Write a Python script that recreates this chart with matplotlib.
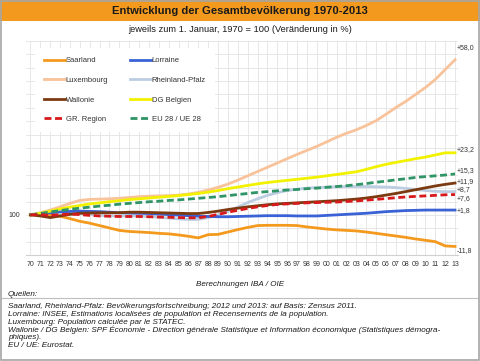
import numpy as np
import matplotlib
matplotlib.use("Agg")
import matplotlib.pyplot as plt
from matplotlib.patches import Rectangle
from matplotlib.lines import Line2D

plt.rcParams['font.family'] = ['Liberation Sans', 'DejaVu Sans']

years = np.arange(1970, 2014)
year_labels = [str(y)[2:] for y in years]

saarland = [100, 100.3, 100.0, 99.5, 98.6, 97.6, 96.9, 96.0, 95.1, 94.2, 93.8, 93.6, 93.4, 93.1,
            92.9, 92.5, 92.0, 91.4, 92.6, 92.7, 93.6, 94.5, 95.3, 96.0, 96.1, 96.1, 96.1, 96.0,
            95.5, 95.1, 94.7, 94.4, 94.2, 94.0, 93.6, 93.1, 92.6, 92.1, 91.6, 91.0, 90.5, 90.0,
            88.4, 88.2]
lorraine = [100, 100.4, 100.8, 101.1, 101.3, 101.4, 101.3, 101.2, 101.0, 100.8, 100.7, 100.6,
            100.5, 100.3, 100.1, 99.9, 99.7, 99.5, 99.4, 99.3, 99.3, 99.4, 99.5, 99.6, 99.7, 99.7,
            99.7, 99.6, 99.6, 99.6, 99.8, 100.0, 100.2, 100.4, 100.6, 100.9, 101.2, 101.4, 101.6,
            101.7, 101.8, 101.8, 101.8, 101.8]
luxembourg = [100, 100.8, 101.8, 103.0, 104.3, 105.4, 105.8, 105.9, 106.0, 106.2, 106.5, 106.8,
              107.0, 107.1, 107.2, 107.4, 107.8, 108.4, 109.3, 110.3, 111.5, 113.0, 114.6, 116.2,
              117.8, 119.4, 121.0, 122.6, 124.1, 125.6, 127.3, 129.0, 130.5, 131.8, 133.4, 135.2,
              137.6, 140.1, 142.4, 145.0, 147.6, 150.6, 154.3, 158.0]
rheinland_pfalz = [100, 100.6, 101.0, 101.2, 101.1, 100.6, 100.1, 99.8, 99.6, 99.6, 99.6, 99.6,
                   99.4, 99.1, 98.8, 98.5, 98.3, 98.3, 99.0, 100.0, 101.3, 102.9, 104.6, 106.0,
                   107.3, 108.3, 109.1, 109.6, 110.0, 110.2, 110.4, 110.5, 110.6, 110.6, 110.6,
                   110.5, 110.4, 110.2, 109.9, 109.5, 109.1, 108.8, 108.7, 108.7]
wallonie = [100, 99.6, 99.0, 99.6, 100.2, 100.6, 100.7, 100.8, 100.8, 100.8, 101.0, 101.0, 100.9,
            100.8, 100.7, 100.6, 100.5, 100.5, 100.9, 101.4, 102.0, 102.5, 103.0, 103.4, 103.8,
            104.1, 104.3, 104.5, 104.7, 104.9, 105.1, 105.3, 105.6, 105.9, 106.3, 106.8, 107.4,
            108.0, 108.7, 109.4, 110.1, 110.8, 111.4, 111.9]
dg_belgien = [100, 100.6, 101.4, 102.2, 102.9, 103.5, 104.1, 104.5, 104.9, 105.3, 105.7, 106.0,
              106.3, 106.6, 106.9, 107.2, 107.6, 108.0, 108.5, 109.1, 109.8, 110.4, 111.0, 111.6,
              112.1, 112.5, 112.9, 113.3, 113.7, 114.1, 114.6, 115.1, 115.6, 116.1, 117.0, 118.0,
              118.9, 119.6, 120.3, 121.0, 121.6, 122.4, 123.2, 123.2]
gr_region = [100, 100.1, 99.8, 100.1, 100.3, 100.1, 99.8, 99.6, 99.5, 99.4, 99.4, 99.4, 99.3,
             99.2, 99.1, 99.0, 98.9, 98.9, 99.4, 100.2, 101.0, 101.7, 102.4, 103.0, 103.5, 103.9,
             104.1, 104.3, 104.5, 104.6, 104.7, 104.8, 105.0, 105.2, 105.5, 105.8, 106.1, 106.4,
             106.7, 106.9, 107.1, 107.3, 107.5, 107.6]
eu28 = [100, 100.5, 101.1, 101.6, 102.1, 102.5, 102.9, 103.3, 103.6, 104.0, 104.3, 104.6, 104.9,
        105.1, 105.4, 105.6, 105.9, 106.2, 106.5, 106.8, 107.2, 107.6, 108.0, 108.4, 108.7, 109.0,
        109.3, 109.5, 109.8, 110.0, 110.3, 110.6, 110.9, 111.3, 111.7, 112.2, 112.6, 113.1, 113.5,
        114.0, 114.3, 114.6, 114.9, 115.3]

end_labels = ["-11,8", "+1,8", "+58,0", "+8,7", "+11,9", "+23,2", "+7,6", "+15,3"]
label_dy = [-3, 0, 9, 1.5, 0.8, 2.5, -3, 2.5]

fig = plt.figure(figsize=(4.8, 3.61), dpi=100)

# title bar + frame
fig.patches.append(Rectangle((0, 1 - 21 / 361), 1, 21 / 361, transform=fig.transFigure,
                             facecolor='#F39A1E', edgecolor='none', zorder=0))
fig.patches.append(Rectangle((0.002, 0.002), 0.996, 0.996, transform=fig.transFigure,
                             facecolor='none', edgecolor='#A6A6A6', lw=1.2, zorder=5))
fig.add_artist(Line2D([0.004, 0.996], [1 - 298 / 361, 1 - 298 / 361], transform=fig.transFigure,
                      color='#BFBFBF', lw=0.8))

fig.text(0.5, 1 - 10.5 / 361, "Entwicklung der Gesamtbevölkerung 1970-2013", ha='center',
         va='center', fontsize=8.1, fontweight='bold', color='#1a1a1a')
fig.text(0.5, 1 - 30 / 361, "jeweils zum 1. Januar, 1970 = 100 (Veränderung in %)",
         ha='center', va='center', fontsize=6.7, color='#1a1a1a')

ax = fig.add_axes([25.5 / 480, 1 - 255 / 361, (458 - 25.5) / 480, (255 - 41) / 361])

series = [
    ("Saarland", saarland, '#F39A1E', '-'),
    ("Lorraine", lorraine, '#3A62D6', '-'),
    ("Luxembourg", luxembourg, '#F8C29A', '-'),
    ("Rheinland-Pfalz", rheinland_pfalz, '#BCCDE2', '-'),
    ("Wallonie", wallonie, '#7B3A10', '-'),
    ("DG Belgien", dg_belgien, '#F2F200', '-'),
    ("GR. Region", gr_region, '#D7191C', '--'),
    ("EU 28 / UE 28", eu28, '#2F9466', '--'),
]
zorders = [3, 4, 2, 3, 5, 4, 7, 6]

handles = {}
for (name, vals, col, ls), zo, lab, dy in zip(series, zorders, end_labels, label_dy):
    if ls == '--':
        ln, = ax.plot(years, vals, color=col, lw=2, dashes=(2.5, 1.3), zorder=zo, label=name)
    else:
        ln, = ax.plot(years, vals, color=col, lw=2, zorder=zo, label=name)
    handles[name] = ln
    ax.annotate(lab, (years[-1], vals[-1]), xytext=(1.5, dy), textcoords='offset points',
                fontsize=5, va='center', ha='left', color='#333333', annotation_clip=False)

order = ["Saarland", "Luxembourg", "Wallonie", "GR. Region",
         "Lorraine", "Rheinland-Pfalz", "DG Belgien", "EU 28 / UE 28"]
leg = ax.legend([handles[n] for n in order], order, loc='upper left', ncol=2,
                bbox_to_anchor=(0.022, 0.968),
                fontsize=5.5, frameon=True, facecolor='white', edgecolor='none', framealpha=1,
                handlelength=2.7, handletextpad=0.1, labelspacing=1.6, columnspacing=2.9,
                borderpad=1.2, borderaxespad=0)
leg.set_zorder(10)
for t in leg.get_texts():
    t.set_color('#333333')

ax.set_xlim(1969.5, 2013.3)
ax.set_ylim(85, 165)
ax.set_xticks(years)
ax.set_xticklabels(year_labels, fontsize=5, color='#333333')
ax.set_yticks(np.arange(85, 166, 5))
ax.set_yticklabels(['100' if v == 100 else '' for v in np.arange(85, 166, 5)], fontsize=5,
                   color='#333333')
ax.tick_params(length=0, pad=4)
ax.grid(True, color='#E3E3E3', lw=0.6)
ax.set_axisbelow(True)
for s in ['top', 'right', 'left']:
    ax.spines[s].set_visible(False)
ax.spines['bottom'].set_color('#D0D0D0')
ax.spines['bottom'].set_linewidth(0.8)

fig.text(0.5, 1 - 285 / 361, "Berechnungen IBA / OIE", ha='center', va='center',
         fontsize=5.8, style='italic', color='#1a1a1a')

fig.text(8 / 480, 1 - 294 / 361, "Quellen:", ha='left', va='center', fontsize=5.9,
         style='italic', color='#1a1a1a')
sources = [
    "Saarland, Rheinland-Pfalz: Bevölkerungsfortschreibung; 2012 und 2013: auf Basis: Zensus 2011.",
    "Lorraine: INSEE, Estimations localisées de population et Recensements de la population.",
    "Luxembourg: Population calculée par le STATEC.",
    "Wallonie / DG Belgien: SPF Économie - Direction générale Statistique et Information économique (Statistiques démogra-",
    "phiques).",
    "EU / UE: Eurostat.",
]
ys = [306, 314, 322, 330, 337.7, 345.5]
for s, yy in zip(sources, ys):
    fig.text(8 / 480, 1 - yy / 361, s, ha='left', va='center', fontsize=5.9, style='italic',
             color='#1a1a1a')

fig.savefig('out.png', dpi=100)
